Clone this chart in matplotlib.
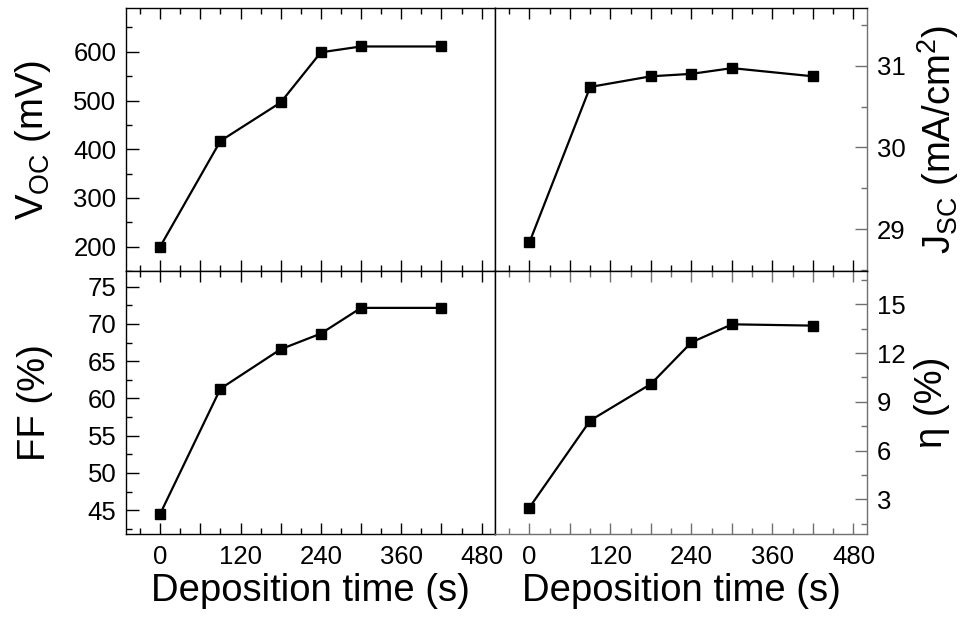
import matplotlib
matplotlib.use("Agg")
import matplotlib.pyplot as plt
from matplotlib.ticker import MultipleLocator, FuncFormatter

plt.rcParams['font.family'] = ['Liberation Sans', 'DejaVu Sans']
plt.rcParams['mathtext.fontset'] = 'custom'
plt.rcParams['mathtext.rm'] = 'Liberation Sans'
plt.rcParams['mathtext.default'] = 'regular'

# Data
time_s = [0, 90, 180, 240, 300, 420]
voc_mV = [200, 417, 496, 599, 611, 611]
jsc_mAcm2 = [28.84, 30.74, 30.87, 30.90, 30.97, 30.87]
ff_pct = [44.5, 61.3, 66.6, 68.7, 72.15, 72.15]
eta_pct = [2.5, 7.85, 10.1, 12.66, 13.77, 13.69]

xticks_major = 60
xlabel_step = 120

fig = plt.figure(figsize=(9.64, 6.23), dpi=100)
W, H = 964, 623

def axrect(x0, y0, x1, y1):
    return [x0 / W, 1 - y1 / H, (x1 - x0) / W, (y1 - y0) / H]

ax_voc = fig.add_axes(axrect(126, 8, 495, 271))
ax_jsc = fig.add_axes(axrect(495, 8, 867, 271))
ax_ff = fig.add_axes(axrect(126, 271, 495, 534))
ax_eta = fig.add_axes(axrect(495, 271, 867, 534))

TICK_FS = 18.5
LABEL_FS = 27.5
GREY = '#707070'

def xfmt(v, pos):
    if abs(v % xlabel_step) < 1e-6:
        return f"{int(round(v))}"
    return ""

panels = [
    (ax_voc, voc_mV, (150, 690), 100, 50, 'left', r'V$_{OC}$ (mV)', True),
    (ax_jsc, jsc_mAcm2, (28.49, 31.705), 1, 0.5, 'right', r'J$_{SC}$ (mA/cm$^{2}$)', True),
    (ax_ff, ff_pct, (41.8, 77.1), 5, 2.5, 'left', 'FF (%)', False),
    (ax_eta, eta_pct, (0.87, 17.05), 3, 1.5, 'right', 'η (%)', False),
]

for ax, yvals, ylim, ymaj, ymin, side, ylabel, top in panels:
    ax.plot(time_s, yvals, color='black', lw=1.6, marker='s', ms=7.8,
            markerfacecolor='black', markeredgecolor='black', clip_on=False, zorder=5)
    ax.set_xlim(-51, 500)
    ax.set_ylim(*ylim)
    ax.xaxis.set_major_locator(MultipleLocator(xticks_major))
    ax.xaxis.set_minor_locator(MultipleLocator(30))
    ax.xaxis.set_major_formatter(FuncFormatter(xfmt))
    ax.yaxis.set_major_locator(MultipleLocator(ymaj))
    ax.yaxis.set_minor_locator(MultipleLocator(ymin))
    for sp in ax.spines.values():
        sp.set_linewidth(1.0)
        sp.set_color('black')
    ax.tick_params(axis='x', which='both', direction='in', top=True, bottom=True,
                   labelbottom=not top, labeltop=False, labelsize=TICK_FS, pad=8)
    ax.tick_params(axis='x', which='major', length=8, width=1)
    ax.tick_params(axis='x', which='minor', length=4, width=1)
    if side == 'left':
        ax.tick_params(axis='y', which='both', direction='in', left=True, right=False,
                       labelleft=True, labelright=False, labelsize=TICK_FS, pad=7)
    else:
        ax.tick_params(axis='y', which='both', direction='in', left=False, right=True,
                       labelleft=False, labelright=True, labelsize=TICK_FS, pad=7)
        ax.yaxis.set_ticks_position('right')
        ax.yaxis.set_label_position('right')
        ax.spines['right'].set_color(GREY)
        ax.tick_params(axis='y', which='both', color=GREY)
        if not top:
            ax.spines['bottom'].set_color(GREY)
            ax.tick_params(axis='x', which='both', color=GREY)
    ax.tick_params(axis='y', which='major', length=9, width=1)
    ax.tick_params(axis='y', which='minor', length=4.5, width=1)
    ax.set_ylabel(ylabel, fontsize=LABEL_FS)
    ax.yaxis.label.set_verticalalignment('center')
    if not top:
        ax.set_xlabel('Deposition time (s)', fontsize=LABEL_FS, labelpad=3)

# label positions (axes coords)
ax_voc.yaxis.set_label_coords((33 - 126) / 369, 0.5)
ax_ff.yaxis.set_label_coords((35 - 126) / 369, 0.5)
ax_jsc.yaxis.set_label_coords((938 - 495) / 372, 0.5)
ax_eta.yaxis.set_label_coords((932 - 495) / 372, 0.5)

fig.savefig('out.png', dpi=100)
